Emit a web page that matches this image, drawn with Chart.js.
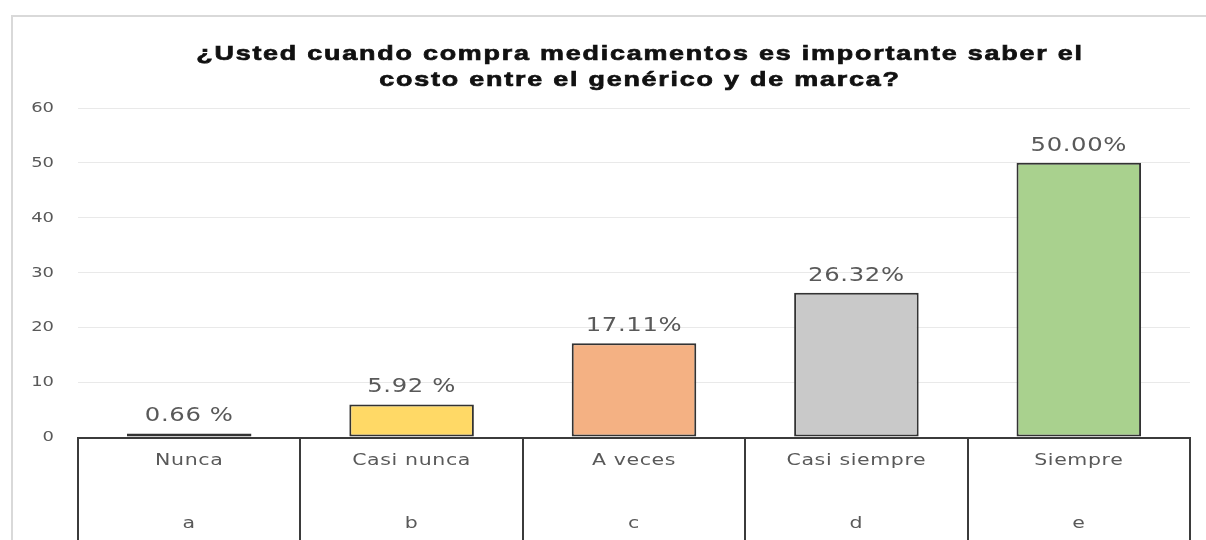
<!DOCTYPE html>
<html>
<head>
<meta charset="utf-8">
<script src="https://cdn.jsdelivr.net/npm/chart.js@4.4.1/dist/chart.umd.min.js"></script>
<style>
  html, body { margin: 0; padding: 0; background: #fff; overflow: hidden; }
  #wrap { position: relative; width: 1206px; height: 540px; }
  #frame { position: absolute; left: 11px; top: 15px; width: 1300px; height: 600px; border: 2px solid #d9d9d9; box-sizing: border-box; }
  canvas { position: absolute; left: 0; top: 0; }
</style>
</head>
<body>
<div id="wrap">
  <div id="frame"></div>
  <canvas id="myChart" width="1206" height="540"></canvas>
</div>
<script>
const categories = ['Nunca', 'Casi nunca', 'A veces', 'Casi siempre', 'Siempre'];
const letters = ['a', 'b', 'c', 'd', 'e'];
const values = [0.66, 5.92, 17.11, 26.32, 50.00];
const valueLabels = ['0.66 %', '5.92 %', '17.11%', '26.32%', '50.00%'];
const barColors = ['#9DC3E6', '#FFD966', '#F4B183', '#C9C9C9', '#A9D18E'];
const titleLines = [
  '¿Usted cuando compra medicamentos es importante saber el',
  'costo entre el genérico y de marca?'
];

// the original picture is stretched sideways, so text is drawn a bit wider
const stretch = 1.28;
function wideText(ctx, text, x, y, bold) {
  ctx.save();
  ctx.translate(x, y);
  ctx.scale(stretch, 1);
  ctx.fillText(text, 0, 0);
  if (bold) ctx.strokeText(text, 0, 0);
  ctx.restore();
}

// table under the bars, value labels, y labels and the title
const extras = {
  id: 'extras',
  afterDraw(chart) {
    const ctx = chart.ctx;
    const area = chart.chartArea;
    const x = chart.scales.x;
    const y = chart.scales.y;
    ctx.save();

    // category table
    ctx.strokeStyle = '#3b3b3b';
    ctx.lineWidth = 2;
    ctx.beginPath();
    ctx.moveTo(area.left, area.bottom + 1);
    ctx.lineTo(area.right, area.bottom + 1);
    for (let i = 0; i <= categories.length; i++) {
      const px = Math.round(x.getPixelForValue(i - 0.5));
      ctx.moveTo(px, area.bottom);
      ctx.lineTo(px, chart.height);
    }
    ctx.stroke();

    ctx.fillStyle = '#595959';
    ctx.textAlign = 'center';
    ctx.textBaseline = 'middle';
    ctx.font = '16px "DejaVu Sans"';
    ctx.letterSpacing = '0.5px';
    categories.forEach((c, i) => {
      const px = x.getPixelForValue(i);
      wideText(ctx, c, px, area.bottom + 24);
      wideText(ctx, letters[i], px, area.bottom + 87);
    });

    // y tick labels
    ctx.font = '14px "DejaVu Sans"';
    ctx.letterSpacing = '0px';
    ctx.textAlign = 'right';
    y.ticks.forEach(t => {
      wideText(ctx, String(t.value), area.left - 24, y.getPixelForValue(t.value) + 0.5);
    });
    ctx.textAlign = 'center';

    // value labels
    ctx.font = '19px "DejaVu Sans"';
    ctx.letterSpacing = '0.5px';
    valueLabels.forEach((t, i) => {
      wideText(ctx, t, x.getPixelForValue(i), y.getPixelForValue(values[i]) - 17);
    });

    // title
    ctx.fillStyle = '#111111';
    ctx.strokeStyle = '#111111';
    ctx.lineWidth = 0.7;
    ctx.font = 'bold 21px "Liberation Sans", Arial, sans-serif';
    ctx.letterSpacing = '1.4px';
    const cx = (area.left + area.right) / 2 + 6;
    titleLines.forEach((t, i) => {
      wideText(ctx, t, cx, 54 + i * 26, true);
    });
    ctx.restore();
  }
};

const data = {
  labels: categories,
  datasets: [
    {
      data: values,
      backgroundColor: barColors,
      borderColor: '#333333',
      borderWidth: 2,
      borderSkipped: false,
      barPercentage: 0.56,
      categoryPercentage: 1
    }
  ]
};

const config = {
  type: 'bar',
  data: data,
  options: {
    responsive: false,
    animation: false,
    layout: {
      padding: { top: 108, right: 16, bottom: 103, left: 0 }
    },
    plugins: {
      legend: { display: false },
      title: { display: false },
      tooltip: { enabled: false }
    },
    scales: {
      x: {
        display: false
      },
      y: {
        min: 0,
        max: 60,
        ticks: { stepSize: 10, display: false },
        grid: { color: '#e9e9e9', drawTicks: false },
        border: { display: false },
        afterFit(scale) { scale.width = 78; }
      }
    }
  },
  plugins: [extras]
};

const myChart = new Chart(document.getElementById('myChart'), config);
</script>
</body>
</html>
